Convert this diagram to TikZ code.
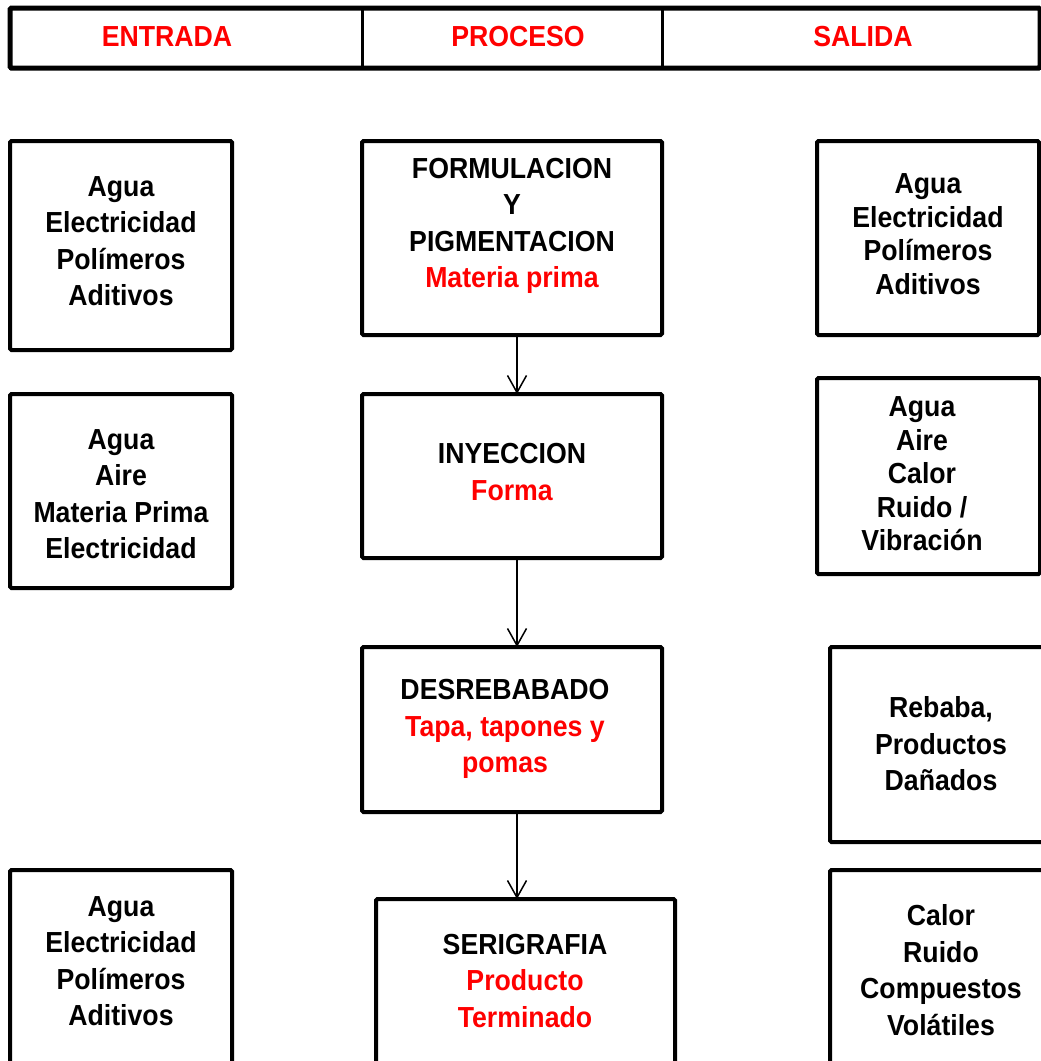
\documentclass[tikz,border=0pt]{standalone}
\usepackage{fontspec}
\setmainfont[FakeStretch=0.92]{Liberation Sans}
\usetikzlibrary{arrows.meta}
\begin{document}
\begin{tikzpicture}[x=1pt,y=-1pt,
  box/.style={draw,line width=4pt,rectangle,inner sep=0pt,outer sep=0pt,rounded corners=1.5pt},
  cell/.style={draw,line width=3pt,rectangle,inner sep=0pt,outer sep=0pt,minimum height=60pt},
  txt/.style={align=center,inner sep=0pt,font=\fontsize{29}{36.5}\selectfont\bfseries},
  rtxt/.style={align=center,inner sep=0pt,font=\fontsize{29}{33.5}\selectfont\bfseries},
  htxt/.style={inner sep=0pt,text=red,font=\fontsize{29}{32}\selectfont\bfseries},
  flow/.style={line width=1.5pt,-{Straight Barb[length=17pt,width=19pt,line width=1.5pt]}}
]
\useasboundingbox (0,0) rectangle (1041,1061);
\fill[white] (0,0) rectangle (1041,1061);
\clip (0,0) rectangle (1041,1061);

% header
\node[cell,minimum width=352pt] (h1) at (186,38) {};
\node[cell,minimum width=300pt] (h2) at (512,38) {};
\node[cell,minimum width=378pt] (h3) at (851,38) {};
\draw[line width=5pt,rounded corners=1.5pt] (h1.north west) rectangle (h3.south east);
\node[htxt] (t1) at (167,37) {ENTRADA};
\node[htxt] (t2) at (518,37) {PROCESO};
\node[htxt] (t3) at (863,37) {SALIDA};

% left column
\node[box,minimum width=222pt,minimum height=209pt] (l1) at (121,245.5) {};
\node[txt] (tl1) at (121,241) {Agua\\Electricidad\\Polímeros\\Aditivos};
\node[box,minimum width=222pt,minimum height=194pt] (l2) at (121,491) {};
\node[txt] (tl2) at (121,494) {Agua\\Aire\\Materia Prima\\Electricidad};
\node[box,minimum width=222pt,minimum height=230pt] (l3) at (121,985) {};
\node[txt] (tl3) at (121,961) {Agua\\Electricidad\\Polímeros\\Aditivos};

% middle column
\node[box,minimum width=300pt,minimum height=194pt] (m1) at (512,238) {};
\node[txt] (tm1) at (512,226) {FORMULACION\\Y\\PIGMENTACION\\\textcolor{red}{Materia prima}};
\node[box,minimum width=300pt,minimum height=164pt] (m2) at (512,476) {};
\node[txt] (tm2) at (512,472) {INYECCION\\\textcolor{red}{Forma}};
\node[box,minimum width=300pt,minimum height=165pt] (m3) at (512,729.5) {};
\node[txt] (tm3) at (505,729) {DESREBABADO\\\textcolor{red}{Tapa, tapones y}\\\textcolor{red}{pomas}};
\node[box,minimum width=299pt,minimum height=200pt] (m4) at (525.5,999) {};
\node[txt] (tm4) at (525,981) {SERIGRAFIA\\\textcolor{red}{Producto}\\\textcolor{red}{Terminado}};

% right column
\node[box,minimum width=222pt,minimum height=194pt] (r1) at (928,238) {};
\node[rtxt] (tr1) at (928,234) {Agua\\Electricidad\\Polímeros\\Aditivos};
\node[box,minimum width=223pt,minimum height=196pt] (r2) at (928.5,476) {};
\node[rtxt] (tr2) at (922,474) {Agua\\Aire\\Calor\\Ruido /\\Vibración};
\node[box,minimum width=230pt,minimum height=195pt] (r3) at (945,744.5) {};
\node[txt] (tr3) at (941,744) {Rebaba,\\Productos\\Dañados};
\node[box,minimum width=230pt,minimum height=230pt] (r4) at (945,985) {};
\node[txt] (tr4) at (941,970) {Calor\\Ruido\\Compuestos\\Volátiles};

% connectors
\coordinate (ax) at (517,0);
\draw[flow] (m1.south -| ax) -- (m2.north -| ax);
\draw[flow] (m2.south -| ax) -- (m3.north -| ax);
\draw[flow] (m3.south -| ax) -- (m4.north -| ax);
\end{tikzpicture}
\end{document}
